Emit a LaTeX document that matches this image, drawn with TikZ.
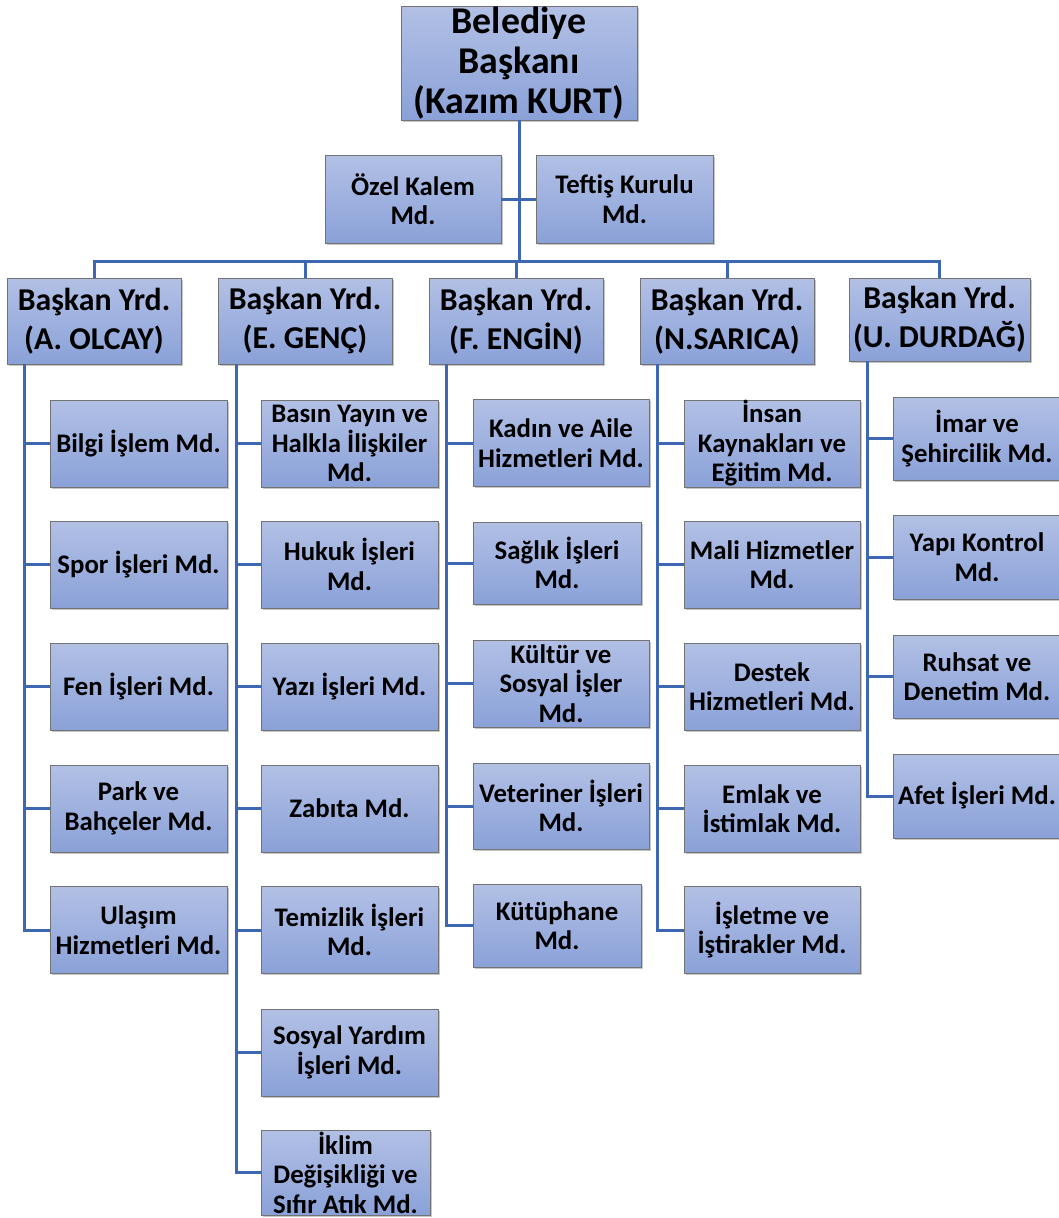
\documentclass[tikz,border=0pt]{standalone}
\usepackage{fontspec}
\setmainfont{Carlito}
\usetikzlibrary{shadows}
\definecolor{kutuust}{HTML}{B2C0E5}
\definecolor{kutualt}{HTML}{8AA1D8}
\definecolor{cizgi}{HTML}{3E67B2}
\begin{document}
\begin{tikzpicture}[x=1pt,y=-1pt]
    \tikzstyle{kutu}=[draw=gray!90!black, line width=0.8pt, top color=kutuust, bottom color=kutualt,
        align=center, inner sep=0pt, font=\bfseries\fontsize{26.8}{29.5}\selectfont,
        drop shadow={shadow xshift=1.5pt, shadow yshift=-1.5pt, opacity=0.45, fill=gray}]
    \tikzstyle{mudur}=[kutu, minimum width=177pt, minimum height=87pt]
    \tikzstyle{yrd}=[kutu, minimum width=174pt, minimum height=86pt, font=\bfseries\fontsize{31.8}{39}\selectfont]
    \tikzstyle{baglanti}=[draw=cizgi, line width=3pt]
    \useasboundingbox (0,0) rectangle (1059,1218);
    % baskan
    \node[kutu, minimum width=236pt, minimum height=114pt, font=\bfseries\fontsize{37.8}{40}\selectfont]
        (baskan) at (519,63) {Belediye\\Başkanı\\(Kazım KURT)};
    \node[kutu, minimum width=176pt, minimum height=88pt] (ozel) at (413,199) {Özel Kalem\\Md.};
    \node[kutu, minimum width=177pt, minimum height=88pt] (teftis) at (624.5,199) {Teftiş Kurulu\\Md.};
    \coordinate (bar) at (519,261);
    % baskan yardimcilari
    \node[yrd] (olcay) at (94,321) {Başkan Yrd.\\(A. OLCAY)};
    \node[yrd] (genc) at (305,321) {Başkan Yrd.\\(E. GENÇ)};
    \node[yrd] (engin) at (516,321) {Başkan Yrd.\\(F. ENGİN)};
    \node[yrd] (sarica) at (727,321) {Başkan Yrd.\\(N.SARICA)};
    \node[yrd, minimum width=181pt, minimum height=83pt] (durdag) at (939.5,319.5) {Başkan Yrd.\\(U. DURDAĞ)};
    % A. OLCAY
    \node[mudur] (bilgi) at (138.5,443.5) {Bilgi İşlem Md.};
    \node[mudur] (spor) at (138.5,564.5) {Spor İşleri Md.};
    \node[mudur] (fen) at (138.5,686.5) {Fen İşleri Md.};
    \node[mudur] (park) at (138.5,808.5) {Park ve\\Bahçeler Md.};
    \node[mudur] (ulasim) at (138.5,930) {Ulaşım\\Hizmetleri Md.};
    % E. GENC
    \node[mudur] (basin) at (349.5,443.5) {Basın Yayın ve\\Halkla İlişkiler\\Md.};
    \node[mudur] (hukuk) at (349.5,564.5) {Hukuk İşleri\\Md.};
    \node[mudur] (yazi) at (349.5,686.5) {Yazı İşleri Md.};
    \node[mudur] (zabita) at (349.5,808.5) {Zabıta Md.};
    \node[mudur] (temizlik) at (349.5,930) {Temizlik İşleri\\Md.};
    \node[mudur] (sosyal) at (349.5,1052.5) {Sosyal Yardım\\İşleri Md.};
    \node[mudur, minimum width=169pt, minimum height=85pt] (iklim) at (345.5,1172.5) {İklim\\Değişikliği ve\\Sıfır Atık Md.};
    % F. ENGIN
    \node[mudur, minimum width=176pt] (kadin) at (561,443) {Kadın ve Aile\\Hizmetleri Md.};
    \node[mudur, minimum width=168pt, minimum height=82pt] (saglik) at (557,563) {Sağlık İşleri\\Md.};
    \node[mudur, minimum width=176pt] (kultur) at (561,683.5) {Kültür ve\\Sosyal İşler\\Md.};
    \node[mudur, minimum width=176pt, minimum height=86pt] (veteriner) at (561,806) {Veteriner İşleri\\Md.};
    \node[mudur, minimum width=168pt, minimum height=83pt] (kutuphane) at (557,925.5) {Kütüphane\\Md.};
    % N.SARICA
    \node[mudur, minimum width=176pt] (insan) at (772,443.5) {İnsan\\Kaynakları ve\\Eğitim Md.};
    \node[mudur, minimum width=176pt] (mali) at (772,564.5) {Mali Hizmetler\\Md.};
    \node[mudur, minimum width=176pt] (destek) at (772,686.5) {Destek\\Hizmetleri Md.};
    \node[mudur, minimum width=176pt] (emlak) at (772,808.5) {Emlak ve\\İstimlak Md.};
    \node[mudur, minimum width=176pt] (isletme) at (772,930) {İşletme ve\\İştirakler Md.};
    % U. DURDAG
    \node[mudur, minimum width=168pt, minimum height=83pt] (imar) at (977,438.5) {İmar ve\\Şehircilik Md.};
    \node[mudur, minimum width=168pt, minimum height=84pt] (yapi) at (977,557) {Yapı Kontrol\\Md.};
    \node[mudur, minimum width=168pt, minimum height=83pt] (ruhsat) at (977,676.5) {Ruhsat ve\\Denetim Md.};
    \node[mudur, minimum width=168pt, minimum height=84pt] (afet) at (977,796) {Afet İşleri Md.};
    % baglantilar
    \draw[baglanti] (baskan.south) -- (bar);
    \draw[baglanti] (ozel.east) -- (teftis.west);
    \foreach \y in {olcay,genc,engin,sarica,durdag}
        \draw[baglanti] (\y.north) |- (bar);
    \foreach \m in {bilgi,spor,fen,park,ulasim}
        \draw[baglanti] ([xshift=18pt]olcay.south west) |- (\m.west);
    \foreach \m in {basin,hukuk,yazi,zabita,temizlik,sosyal,iklim}
        \draw[baglanti] ([xshift=19pt]genc.south west) |- (\m.west);
    \foreach \m in {kadin,saglik,kultur,veteriner,kutuphane}
        \draw[baglanti] ([xshift=18pt]engin.south west) |- (\m.west);
    \foreach \m in {insan,mali,destek,emlak,isletme}
        \draw[baglanti] ([xshift=18pt]sarica.south west) |- (\m.west);
    \foreach \m in {imar,yapi,ruhsat,afet}
        \draw[baglanti] ([xshift=19pt]durdag.south west) |- (\m.west);
\end{tikzpicture}
\end{document}
